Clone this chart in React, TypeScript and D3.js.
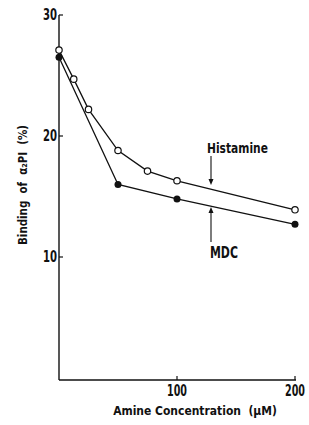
import { useEffect, useRef } from "react";
import * as d3 from "d3";

// amine concentration (µM)
const histConc = [0, 12.5, 25, 50, 75, 100, 200];
const histBinding = [27.1, 24.7, 22.2, 18.8, 17.1, 16.3, 13.9];
const mdcConc = [0, 50, 100, 200];
const mdcBinding = [26.5, 16.0, 14.8, 12.7];
const xTicks = [100, 200];
const yTicks = [10, 20, 30];

const FONT = "'DejaVu Sans', sans-serif";

export default function App() {
  const ref = useRef<SVGSVGElement>(null);

  useEffect(() => {
    if (!ref.current) return;
    const svg = d3.select(ref.current);
    svg.selectAll("*").remove();

    const W = 309;
    const H = 425;
    svg.attr("width", W).attr("height", H);

    const x = d3.scaleLinear().domain([0, 200]).range([59, 295]);
    const y = d3.scaleLinear().domain([0, 30]).range([378, 15]);

    svg.append("rect").attr("width", W).attr("height", H).attr("fill", "#fff");

    // condensed bold text: squeeze horizontally to the width seen in the scan
    const label = (
      tx: number,
      ty: number,
      s: string,
      size: number,
      len: number,
      anchor = "middle",
      rotate = false
    ) => {
      const t = svg
        .append("text")
        .attr("text-anchor", anchor)
        .attr("dominant-baseline", "central")
        .attr("font-family", FONT)
        .attr("font-weight", "bold")
        .attr("font-size", size)
        .attr("fill", "#111")
        .attr("xml:space", "preserve")
        .text(s);
      const natural = (t.node() as SVGTextElement).getComputedTextLength() || len;
      const k = len / natural;
      t.attr(
        "transform",
        `translate(${tx},${ty})${rotate ? " rotate(-90)" : ""} scale(${k},1)`
      );
    };

    // axes
    svg
      .append("line")
      .attr("x1", x(0))
      .attr("x2", x(0))
      .attr("y1", y(30))
      .attr("y2", 380)
      .attr("stroke", "#111")
      .attr("stroke-width", 1.4);
    svg
      .append("line")
      .attr("x1", x(0))
      .attr("x2", x(200) + 1)
      .attr("y1", 380)
      .attr("y2", 380)
      .attr("stroke", "#111")
      .attr("stroke-width", 1.4);

    yTicks.forEach((t) => {
      svg
        .append("line")
        .attr("x1", x(0))
        .attr("x2", x(0) + 4)
        .attr("y1", y(t))
        .attr("y2", y(t))
        .attr("stroke", "#111")
        .attr("stroke-width", 1.2);
      label(x(0) - 2, y(t), String(t), 16, 14, "end");
    });

    xTicks.forEach((t) => {
      svg
        .append("line")
        .attr("x1", x(t))
        .attr("x2", x(t))
        .attr("y1", 380)
        .attr("y2", 376)
        .attr("stroke", "#111")
        .attr("stroke-width", 1.2);
      label(x(t), 391, String(t), 16, 20);
    });

    // axis labels
    label(195, 411, "Amine Concentration  (\u00b5M)", 13, 164);
    label(23, 185, "Binding  of  \u03b1\u2082PI  (%)", 13, 120, "middle", true);

    const line = d3
      .line<[number, number]>()
      .x((d) => x(d[0]))
      .y((d) => y(d[1]));

    const hist: [number, number][] = histConc.map((c, i) => [c, histBinding[i]]);
    const mdc: [number, number][] = mdcConc.map((c, i) => [c, mdcBinding[i]]);

    [hist, mdc].forEach((pts) => {
      svg
        .append("path")
        .datum(pts)
        .attr("fill", "none")
        .attr("stroke", "#111")
        .attr("stroke-width", 1.3)
        .attr("d", line);
    });

    mdc.forEach((d) => {
      svg
        .append("circle")
        .attr("cx", x(d[0]))
        .attr("cy", y(d[1]))
        .attr("r", 3.5)
        .attr("fill", "#111");
    });
    hist.forEach((d) => {
      svg
        .append("circle")
        .attr("cx", x(d[0]))
        .attr("cy", y(d[1]))
        .attr("r", 3.2)
        .attr("fill", "#fff")
        .attr("stroke", "#111")
        .attr("stroke-width", 1.2);
    });

    // annotations
    const arrow = (xa: number, y1: number, y2: number) => {
      const dir = Math.sign(y2 - y1);
      svg
        .append("line")
        .attr("x1", xa)
        .attr("x2", xa)
        .attr("y1", y1)
        .attr("y2", y2 - dir * 5)
        .attr("stroke", "#111")
        .attr("stroke-width", 1.1);
      svg
        .append("path")
        .attr("d", `M${xa - 2.5},${y2 - dir * 6}L${xa},${y2}L${xa + 2.5},${y2 - dir * 6}Z`)
        .attr("fill", "#111");
    };
    arrow(211, 156, 185);
    arrow(211, 242, 207);

    label(207, 148, "Histamine", 14, 61, "start");
    label(210, 253, "MDC", 15, 28, "start");
  }, []);

  return <svg ref={ref} style={{ position: "absolute", left: 0, top: 0 }} />;
}
